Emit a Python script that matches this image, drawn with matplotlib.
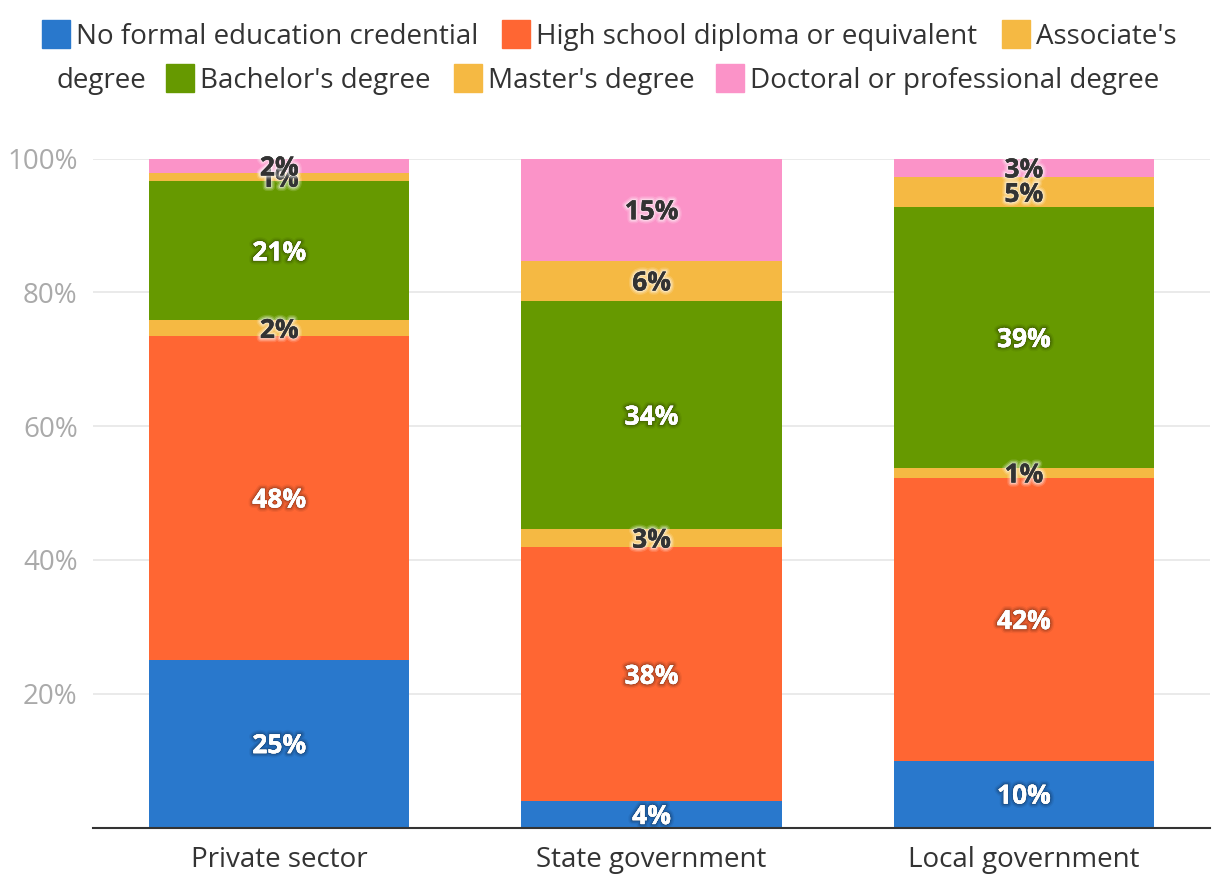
import numpy as np
import matplotlib
matplotlib.use("Agg")
import matplotlib.pyplot as plt
import matplotlib.patheffects as pe
from matplotlib.patches import Rectangle

plt.rcParams['font.family'] = ['Open Sans', 'DejaVu Sans']

# dati
categories = ["Private sector", "State government", "Local government"]
series_names = ["No formal education credential", "High school diploma or equivalent",
                "Associate's degree", "Bachelor's degree", "Master's degree",
                "Doctoral or professional degree"]
no_formal = [25.1, 3.9, 10.0]
high_school = [48.3, 38.0, 42.2]
associate = [2.4, 2.7, 1.6]
bachelor = [20.8, 34.1, 38.9]
master = [1.2, 6.0, 4.5]
doctoral = [2.2, 15.3, 2.8]
labels = [["25%", "4%", "10%"], ["48%", "38%", "42%"], ["2%", "3%", "1%"],
          ["21%", "34%", "39%"], ["1%", "6%", "5%"], ["2%", "15%", "3%"]]
yticks = [20, 40, 60, 80, 100]

values = [no_formal, high_school, associate, bachelor, master, doctoral]
colors = ["#2978cc", "#ff6633", "#f5b943", "#669900", "#f5b943", "#fb93c8"]
dark_label = [False, False, True, False, True, True]

fig = plt.figure(figsize=(12.2, 8.96), dpi=100)
ax = fig.add_axes([93/1220, 1 - 827.5/896, (1210 - 93)/1220, (827.5 - 158.5)/896])

# alone morbido attorno alle etichette
glow_dark = [pe.withStroke(linewidth=6, foreground=(0, 0, 0, 0.06)),
             pe.withStroke(linewidth=4, foreground=(0, 0, 0, 0.10)),
             pe.withStroke(linewidth=2, foreground=(0, 0, 0, 0.15)), pe.Normal()]
glow_light = [pe.withStroke(linewidth=6, foreground=(1, 1, 1, 0.15)),
              pe.withStroke(linewidth=4, foreground=(1, 1, 1, 0.25)),
              pe.withStroke(linewidth=2, foreground=(1, 1, 1, 0.4)), pe.Normal()]

x = np.arange(len(categories))
bottom = np.zeros(len(categories))
for i, vals in enumerate(values):
    vals = np.array(vals)
    ax.bar(x, vals, width=0.70, bottom=bottom, color=colors[i], zorder=2)
    for j in range(len(categories)):
        yc = bottom[j] + vals[j] / 2
        if dark_label[i]:
            fx, tc = glow_light, "#333333"
        else:
            fx, tc = glow_dark, "white"
        ax.annotate(labels[i][j], (x[j], yc), xytext=(0, -1.5), textcoords="offset points",
                    ha="center", va="center", fontsize=19, fontweight="bold",
                    color=tc, path_effects=fx, zorder=5)
    bottom += vals

ax.set_xlim(-0.5, 2.5)
ax.set_ylim(0, 100)
ax.set_yticks(yticks)
ax.set_yticklabels([f"{t}%" for t in yticks], fontsize=20, color="#aaaaaa")
ax.set_xticks(x)
ax.set_xticklabels(categories, fontsize=20, color="#333333")
ax.tick_params(axis="both", length=0)
ax.tick_params(axis="x", pad=13)
ax.tick_params(axis="y", pad=11)
ax.grid(axis="y", color="#e6e6e6", linewidth=1.2, zorder=0)
for s in ["top", "right", "left"]:
    ax.spines[s].set_visible(False)
ax.spines["bottom"].set_color("#333333")
ax.spines["bottom"].set_linewidth(1.5)

# legenda fatta a mano (va a capo come l'originale)
def px(xp, yp):
    return xp / 1220, 1 - yp / 896

legend_items = [
    (42, 34, 0, series_names[0]), (502, 34, 1, series_names[1]),
    (1002, 34, 2, "Associate's"),
    (166, 78, 3, series_names[3]), (454, 78, 4, series_names[4]),
    (716, 78, 5, series_names[5]),
]
for xp, yp, k, name in legend_items:
    rx, ry = px(xp, yp + 14)
    fig.patches.append(Rectangle((rx, ry), 28/1220, 28/896, transform=fig.transFigure,
                                 color=colors[k], figure=fig))
    tx, ty = px(xp + 34, yp + 3)
    fig.text(tx, ty, name, fontsize=20, color="#333333", va="center", ha="left")
tx, ty = px(56, 81)
fig.text(tx, ty, "degree", fontsize=20, color="#333333", va="center", ha="left")

fig.savefig("out.png", dpi=100)
